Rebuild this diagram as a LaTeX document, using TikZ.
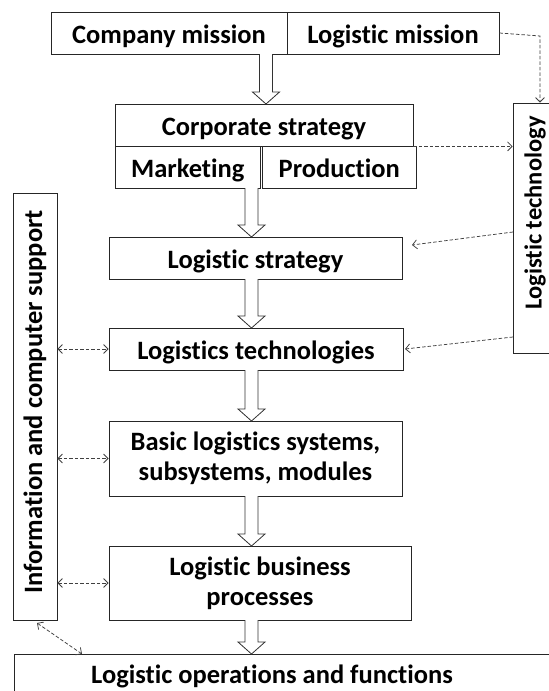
\documentclass[tikz,border=0pt]{standalone}
\usepackage{fontspec}
\setmainfont{Carlito}[Ligatures={NoCommon}]
\usetikzlibrary{arrows.meta,calc}
\begin{document}
\begin{tikzpicture}[x=1pt,y=-1pt,
  lbl/.style={font=\bfseries\fontsize{26.5}{30}\selectfont, inner sep=0pt},
  box/.style={lbl, draw=black!85, line width=0.9pt, fill=white, align=center},
  onebox/.style={box, text height=25pt, text depth=5pt},
  flow/.style={draw=black!80, line width=0.8pt, fill=white},
  link/.style={draw=black!75, line width=0.75pt, dash pattern=on 3.5pt off 2pt, -{Straight Barb[length=4.5pt,width=9pt]}},
  link2/.style={link, {Straight Barb[length=4.5pt,width=9pt]}-{Straight Barb[length=4.5pt,width=9pt]}}]
\clip (0,0) rectangle (549,691);
\fill[white] (0,0) rectangle (549,691);

% mission row
\node[onebox, minimum width=236, minimum height=42] (cm) at (169,33) {Company mission};
\node[onebox, minimum width=212, minimum height=42] (lm) at (393,33) {Logistic mission};

% corporate strategy block
\node[onebox, minimum width=298, minimum height=42] (cs) at (264,125) {Corporate strategy};
\node[onebox, minimum width=145.5, minimum height=42] (mk) at (187.75,167) {Marketing};
\node[onebox, minimum width=153.5, minimum height=42] (pr) at (339.25,167) {Production};

% main chain
\node[onebox, minimum width=293, minimum height=42] (ls) at (255.5,258) {Logistic strategy};
\node[onebox, minimum width=294, minimum height=42] (lt) at (256,349) {Logistics technologies};
\node[box, minimum width=293, minimum height=75] (bls) at (255.5,458.5) {Basic logistics systems,\\subsystems, modules};
\node[box, minimum width=302, minimum height=74] (lbp) at (260,583) {Logistic business\\processes};
\node[box, minimum width=556, minimum height=60, anchor=north west] (lof) at (14,654) {};
\node[lbl] (loft) at (272,676) {Logistic operations and functions};

% side columns
\node[box, minimum width=60, minimum height=250] (tech) at (543,228) {};
\node[lbl, font=\bfseries\fontsize{24.5}{28}\selectfont, rotate=90] (techt) at (535,213) {Logistic technology};
\node[box, minimum width=44, minimum height=427] (ics) at (35,406.5) {};
\node[lbl, rotate=90] (icst) at (35,402) {Information and computer support};

% hollow flow arrows
\foreach \cx/\ya/\yb in {266/54/104, 251.5/188/237, 251.5/279/328, 251.5/370/421, 251.5/496/546, 251.5/620/654}{
  \draw[flow] (\cx-6.5,\ya) -- (\cx-6.5,\yb-12) -- (\cx-13.5,\yb-12) -- (\cx,\yb) -- (\cx+13.5,\yb-12) -- (\cx+6.5,\yb-12) -- (\cx+6.5,\ya);
}

% dashed links
\coordinate (k1) at (540,36);
\draw[link] (lm.east) -- (k1) -- (k1 |- tech.north);
\draw[link] (cs.south east) -- (cs.south east -| tech.west);
\coordinate (s1) at (513,232);
\coordinate (s2) at (412,245);
\draw[link] (s1) -- (s2);
\coordinate (s3) at (513,337);
\coordinate (s4) at (405,349);
\draw[link] (s3) -- (s4);
\draw[link2] (ics.east |- lt.west) -- (lt.west);
\draw[link2] (ics.east |- bls.west) -- (bls.west);
\draw[link2] (ics.east |- lbp.west) -- (lbp.west);
\coordinate (q1) at (37,623);
\coordinate (q2) at (82,654);
\draw[link2] (q1) -- (q2);
\end{tikzpicture}
\end{document}
